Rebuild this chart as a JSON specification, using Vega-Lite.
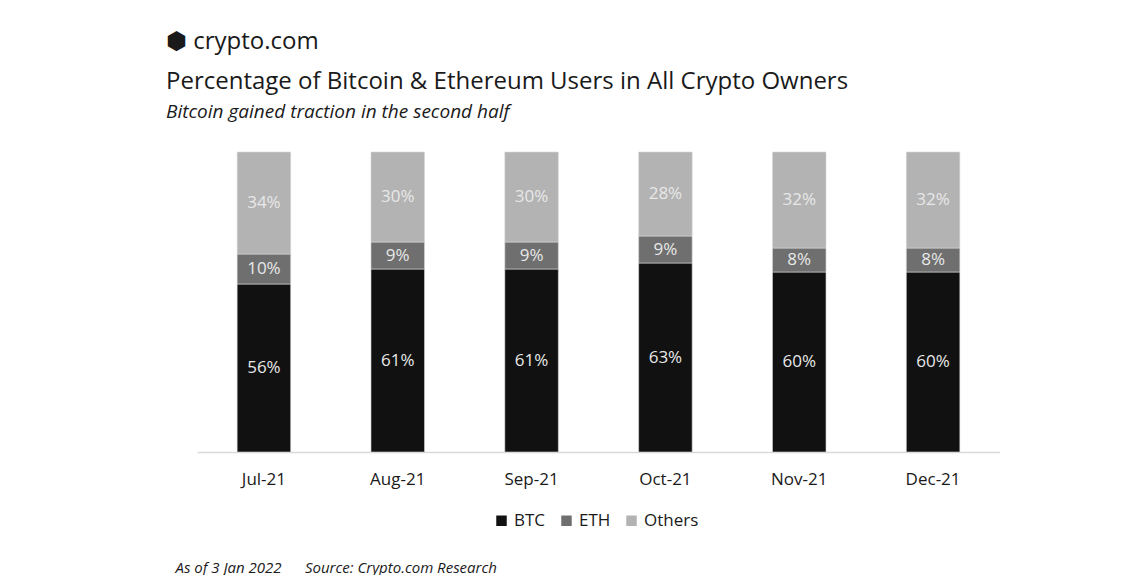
{
  "$schema": "https://vega.github.io/schema/vega-lite/v6.json",
  "width": 803,
  "height": 300,
  "padding": {"left": 166, "top": 29, "right": 0, "bottom": 0},
  "background": "white",
  "config": {"view": {"stroke": null}},
  "title": {
    "text": ["⬢ crypto.com", "Percentage of Bitcoin & Ethereum Users in All Crypto Owners"],
    "subtitle": "Bitcoin gained traction in the second half",
    "anchor": "start",
    "frame": "group",
    "dx": -31,
    "font": "Open Sans",
    "fontSize": 24,
    "fontWeight": "normal",
    "color": "#1a1a1a",
    "lineHeight": 40,
    "subtitleFont": "Open Sans",
    "subtitleFontSize": 19,
    "subtitleFontStyle": "italic",
    "subtitleColor": "#1a1a1a",
    "subtitlePadding": 9,
    "offset": 30
  },
  "data": {
    "values": [
      {"month": "Jul-21", "series": "BTC", "value": 0.56},
      {"month": "Jul-21", "series": "ETH", "value": 0.10},
      {"month": "Jul-21", "series": "Others", "value": 0.34},
      {"month": "Aug-21", "series": "BTC", "value": 0.61},
      {"month": "Aug-21", "series": "ETH", "value": 0.09},
      {"month": "Aug-21", "series": "Others", "value": 0.30},
      {"month": "Sep-21", "series": "BTC", "value": 0.61},
      {"month": "Sep-21", "series": "ETH", "value": 0.09},
      {"month": "Sep-21", "series": "Others", "value": 0.30},
      {"month": "Oct-21", "series": "BTC", "value": 0.63},
      {"month": "Oct-21", "series": "ETH", "value": 0.09},
      {"month": "Oct-21", "series": "Others", "value": 0.28},
      {"month": "Nov-21", "series": "BTC", "value": 0.60},
      {"month": "Nov-21", "series": "ETH", "value": 0.08},
      {"month": "Nov-21", "series": "Others", "value": 0.32},
      {"month": "Dec-21", "series": "BTC", "value": 0.60},
      {"month": "Dec-21", "series": "ETH", "value": 0.08},
      {"month": "Dec-21", "series": "Others", "value": 0.32}
    ]
  },
  "transform": [
    {"stack": "value", "groupby": ["month"], "sort": [{"field": "series", "order": "ascending"}], "as": ["v0", "v1"]},
    {"calculate": "(datum.v0 + datum.v1) / 2", "as": "mid"}
  ],
  "encoding": {
    "x": {
      "field": "month",
      "type": "nominal",
      "sort": ["Jul-21", "Aug-21", "Sep-21", "Oct-21", "Nov-21", "Dec-21"],
      "scale": {"paddingInner": 0.6, "paddingOuter": 0.3},
      "axis": {
        "title": "As of 3 Jan 2022\u00a0\u00a0\u00a0\u00a0\u00a0\u00a0Source: Crypto.com Research",
        "titleX": -22,
        "titleY": 108,
        "titleAlign": "left",
        "titleAnchor": "start",
        "titleFont": "Open Sans",
        "titleFontSize": 15,
        "titleFontStyle": "italic",
        "titleFontWeight": "normal",
        "titleColor": "#1a1a1a",
        "labelAngle": 0,
        "labelFont": "Open Sans",
        "labelFontSize": 17,
        "labelColor": "#1a1a1a",
        "labelPadding": 19,
        "ticks": false,
        "domainColor": "#d9d9d9",
        "domainWidth": 1.5
      }
    }
  },
  "layer": [
    {
      "mark": {"type": "bar", "stroke": "#d9d9d9", "strokeWidth": 0.6},
      "encoding": {
        "y": {"field": "v0", "type": "quantitative", "scale": {"domain": [0, 1]}, "axis": null},
        "y2": {"field": "v1"},
        "color": {
          "field": "series",
          "type": "nominal",
          "scale": {"domain": ["BTC", "ETH", "Others"], "range": ["#111111", "#6f6f6f", "#b3b3b3"]},
          "legend": {
            "title": null,
            "orient": "none",
            "direction": "horizontal",
            "legendX": 296,
            "legendY": 360,
            "symbolType": "square",
            "symbolSize": 110,
            "symbolStrokeWidth": 0,
            "labelFont": "Open Sans",
            "labelFontSize": 17,
            "labelColor": "#1a1a1a",
            "labelOffset": 4,
            "columnPadding": 12
          }
        }
      }
    },
    {
      "mark": {"type": "text", "font": "Open Sans", "fontSize": 17, "color": "#e8e8e8", "baseline": "middle"},
      "encoding": {
        "y": {"field": "mid", "type": "quantitative", "scale": {"domain": [0, 1]}},
        "text": {"field": "value", "type": "quantitative", "format": ".0%"}
      }
    }
  ]
}
